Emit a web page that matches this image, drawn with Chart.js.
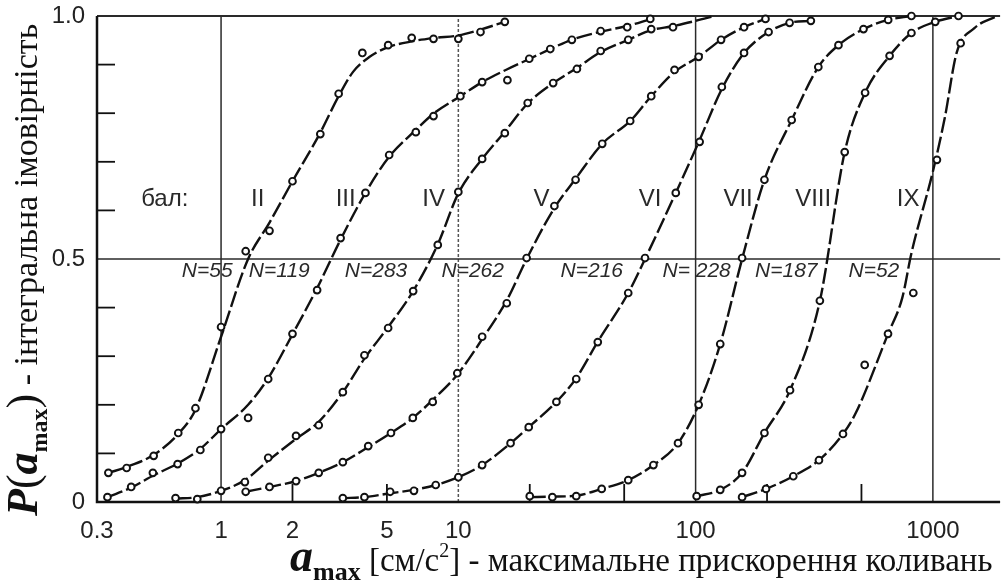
<!DOCTYPE html>
<html>
<head>
<meta charset="utf-8">
<script src="https://cdn.jsdelivr.net/npm/chart.js@4.4.0/dist/chart.umd.min.js"></script>
<style>
  html, body { margin: 0; padding: 0; background: #fff; }
  #wrap { width: 1006px; height: 583px; }
</style>
</head>
<body>
<div id="wrap"><canvas id="grafik" width="1006" height="583"></canvas></div>
<script>
// Бали та кількість записів
const grades = ['II', 'III', 'IV', 'V', 'VI', 'VII', 'VIII', 'IX'];
const recordsN = ['N=55', 'N=119', 'N=283', 'N=262', 'N=216', 'N= 228', 'N=187', 'N=52'];

// Підписи осей
const xTickValues = [0.3, 1, 2, 5, 10, 100, 1000];
const xMinorTicks = [2, 5, 20, 50, 200, 500];
const xGridValues = [1, 10, 100, 1000];
const yTickValues = [0, 0.5, 1];
const yMinorTicks = [0.1, 0.2, 0.3, 0.4, 0.6, 0.7, 0.8, 0.9];

// Спостереження (кружки)
const obsII_x = [0.335, 0.40, 0.52, 0.66, 0.78, 1.0, 1.27, 1.6, 2.0, 2.62, 3.13, 3.94, 5.06, 6.36, 7.86, 10, 12.4, 15.7];
const obsII_y = [0.06, 0.07, 0.095, 0.142, 0.193, 0.36, 0.516, 0.558, 0.66, 0.757, 0.84, 0.924, 0.94, 0.955, 0.953, 0.953, 0.967, 0.988];
const obsIII_x = [0.332, 0.418, 0.516, 0.656, 0.818, 1.0, 1.3, 1.58, 2.0, 2.54, 3.19, 4.06, 5.11, 6.62, 7.86, 10.2, 12.6, 16.1, 19.9, 24.4, 30.1, 39.8, 51.5, 64.4];
const obsIII_y = [0.01, 0.031, 0.06, 0.078, 0.107, 0.15, 0.173, 0.253, 0.346, 0.436, 0.543, 0.636, 0.714, 0.761, 0.794, 0.835, 0.864, 0.868, 0.912, 0.932, 0.951, 0.969, 0.977, 0.994];
const obsIV_x = [0.643, 0.794, 1.0, 1.26, 1.58, 2.07, 2.58, 3.26, 4.02, 5.06, 6.45, 8.19, 10, 12.6, 15.7, 19.6, 25.1, 31.6, 39.8, 52, 65, 80.3];
const obsIV_y = [0.008, 0.006, 0.023, 0.041, 0.091, 0.136, 0.158, 0.226, 0.302, 0.358, 0.434, 0.529, 0.638, 0.706, 0.759, 0.821, 0.862, 0.891, 0.928, 0.951, 0.973, 0.977];
const obsV_x = [1.27, 1.6, 2.07, 2.58, 3.26, 4.17, 5.2, 6.43, 7.8, 9.9, 12.6, 16.0, 19.4, 25.4, 31.2, 40.4, 53, 65, 81.5, 103, 128, 160, 197];
const obsV_y = [0.021, 0.031, 0.043, 0.06, 0.082, 0.115, 0.142, 0.173, 0.206, 0.265, 0.34, 0.409, 0.502, 0.609, 0.663, 0.737, 0.784, 0.835, 0.889, 0.916, 0.951, 0.977, 0.994];
const obsVI_x = [3.26, 4.02, 5.16, 6.5, 8.03, 10, 12.6, 16.6, 19.8, 25.9, 31.4, 38.7, 52, 61.2, 82.5, 104, 129, 160, 203, 249, 306];
const obsVI_y = [0.008, 0.01, 0.021, 0.023, 0.035, 0.051, 0.076, 0.121, 0.154, 0.206, 0.253, 0.329, 0.43, 0.502, 0.636, 0.741, 0.854, 0.924, 0.967, 0.986, 0.99];
const obsVII_x = [20, 24.9, 31.4, 40.2, 52, 66.4, 84.3, 103, 127, 157, 195, 254, 329, 400, 510, 648, 812];
const obsVII_y = [0.012, 0.01, 0.012, 0.027, 0.045, 0.076, 0.121, 0.2, 0.325, 0.502, 0.663, 0.786, 0.895, 0.94, 0.973, 0.992, 1.0];
const obsVIII_x = [101, 127, 157, 195, 250, 334, 425, 518, 657, 812, 1023, 1282];
const obsVIII_y = [0.012, 0.025, 0.06, 0.142, 0.23, 0.414, 0.72, 0.842, 0.918, 0.965, 0.988, 1.0];
const obsIX_x = [157, 198, 258, 331, 418, 516, 647, 827, 1040, 1309];
const obsIX_y = [0.01, 0.027, 0.053, 0.086, 0.14, 0.282, 0.346, 0.43, 0.704, 0.944];

// Згладжені криві розподілу
const fitII_x = [0.335, 0.40, 0.52, 0.66, 0.78, 1.0, 1.3, 1.6, 2.0, 2.6, 3.13, 3.6, 4.2, 5.0, 6.4, 8.0, 10, 12.4, 15.7];
const fitII_y = [0.06, 0.072, 0.097, 0.14, 0.19, 0.34, 0.5, 0.575, 0.66, 0.757, 0.835, 0.885, 0.915, 0.935, 0.948, 0.955, 0.96, 0.972, 0.988];
const fitIII_x = [0.332, 0.42, 0.52, 0.66, 0.82, 1.0, 1.3, 1.58, 2.0, 2.54, 3.19, 4.06, 5.1, 6.6, 7.9, 10.2, 12.6, 16, 20, 24.4, 30, 40, 52, 64];
const fitIII_y = [0.01, 0.03, 0.055, 0.08, 0.11, 0.15, 0.2, 0.255, 0.345, 0.44, 0.54, 0.636, 0.71, 0.765, 0.8, 0.835, 0.864, 0.89, 0.912, 0.932, 0.951, 0.968, 0.98, 0.993];
const fitIV_x = [0.643, 0.794, 1.0, 1.26, 1.58, 2.07, 2.58, 3.26, 4.02, 5.06, 6.45, 8.19, 10, 12.6, 15.7, 19.6, 25.1, 31.6, 39.8, 52, 65, 80, 100, 120];
const fitIV_y = [0.007, 0.01, 0.023, 0.045, 0.085, 0.13, 0.165, 0.226, 0.295, 0.36, 0.434, 0.53, 0.635, 0.706, 0.762, 0.82, 0.862, 0.893, 0.926, 0.951, 0.971, 0.979, 0.99, 1.0];
const fitV_x = [1.27, 1.6, 2.07, 2.58, 3.26, 4.17, 5.2, 6.43, 7.8, 9.9, 12.6, 16, 19.4, 25.4, 31.2, 40.4, 53, 65, 81.5, 103, 128, 160, 197];
const fitV_y = [0.021, 0.031, 0.043, 0.06, 0.082, 0.113, 0.142, 0.173, 0.21, 0.262, 0.335, 0.415, 0.5, 0.605, 0.665, 0.737, 0.784, 0.835, 0.885, 0.916, 0.951, 0.977, 0.994];
const fitVI_x = [3.26, 4.02, 5.16, 6.5, 8.03, 10, 12.6, 16.6, 19.8, 25.9, 31.4, 38.7, 52, 61.2, 82.5, 104, 129, 160, 203, 249, 306];
const fitVI_y = [0.008, 0.01, 0.018, 0.025, 0.035, 0.051, 0.076, 0.121, 0.154, 0.206, 0.255, 0.33, 0.43, 0.5, 0.636, 0.745, 0.85, 0.924, 0.967, 0.986, 0.99];
const fitVII_x = [20, 24.9, 31.4, 40.2, 52, 66.4, 84.3, 103, 127, 157, 195, 254, 329, 400, 510, 648, 812];
const fitVII_y = [0.01, 0.011, 0.013, 0.027, 0.045, 0.076, 0.121, 0.2, 0.325, 0.5, 0.663, 0.786, 0.895, 0.94, 0.973, 0.992, 1.0];
const fitVIII_x = [101, 127, 157, 195, 250, 334, 425, 518, 657, 812, 1023, 1282];
const fitVIII_y = [0.012, 0.025, 0.06, 0.142, 0.23, 0.414, 0.72, 0.842, 0.918, 0.965, 0.988, 1.0];
const fitIX_x = [157, 198, 258, 331, 418, 473, 647, 743, 812, 1000, 1122, 1259, 1496, 1864];
const fitIX_y = [0.01, 0.027, 0.053, 0.086, 0.14, 0.183, 0.346, 0.42, 0.512, 0.68, 0.79, 0.924, 0.975, 1.0];

const observed = [[obsII_x, obsII_y], [obsIII_x, obsIII_y], [obsIV_x, obsIV_y], [obsV_x, obsV_y],
                  [obsVI_x, obsVI_y], [obsVII_x, obsVII_y], [obsVIII_x, obsVIII_y], [obsIX_x, obsIX_y]];
const fitted = [[fitII_x, fitII_y], [fitIII_x, fitIII_y], [fitIV_x, fitIV_y], [fitV_x, fitV_y],
                [fitVI_x, fitVI_y], [fitVII_x, fitVII_y], [fitVIII_x, fitVIII_y], [fitIX_x, fitIX_y]];

function toPoints(xs, ys) {
    return xs.map(function (x, i) { return { x: x, y: ys[i] }; });
}

var datasets = [];
observed.forEach(function (o, i) {
    datasets.push({
        label: grades[i],
        data: toPoints(o[0], o[1]),
        showLine: false,
        pointRadius: 3.4,
        pointBorderWidth: 1.9,
        pointBorderColor: '#111',
        pointBackgroundColor: '#fff',
        order: 0,
        clip: false
    });
});
fitted.forEach(function (f, i) {
    datasets.push({
        label: grades[i] + ' fit',
        data: toPoints(f[0], f[1]),
        showLine: true,
        borderColor: '#111',
        borderWidth: 2.4,
        borderDash: [16, 4],
        pointRadius: 0,
        cubicInterpolationMode: 'monotone',
        fill: false,
        order: 1,
        clip: false
    });
});

// Розташування підписів (у координатах графіка)
const gradeLabelX = [1.426, 3.35, 7.87, 22.4, 64.3, 151, 313, 787];
const gradeLabelY = 0.623;
const nLabelX = [0.874, 1.76, 4.5, 11.5, 36.5, 101, 241, 564];
const nLabelY = 0.476;

const SANS = '"Liberation Sans", Arial, sans-serif';
const SERIF = '"Liberation Serif", "Times New Roman", serif';

function drawRuns(ctx, runs, x, y) {
    runs.forEach(function (r) {
        ctx.font = r.font;
        ctx.fillText(r.text, x, y + (r.dy || 0));
        x += ctx.measureText(r.text).width;
    });
}

const framePlugin = {
    id: 'frame',
    beforeDatasetsDraw(chart) {
        var ctx = chart.ctx, xs = chart.scales.x, ys = chart.scales.y, a = chart.chartArea;
        ctx.save();
        // вертикальні лінії сітки
        xGridValues.forEach(function (v) {
            var px = xs.getPixelForValue(v);
            ctx.lineWidth = 1.5;
            ctx.setLineDash(v === 10 ? [3, 2] : []);
            ctx.strokeStyle = v === 10 ? '#555' : '#2a2a2a';
            ctx.beginPath(); ctx.moveTo(px, a.bottom); ctx.lineTo(px, a.top); ctx.stroke();
        });
        ctx.setLineDash([]);
        ctx.strokeStyle = '#2a2a2a';
        // горизонтальні лінії 0.5 та 1.0
        ctx.lineWidth = 1.5;
        var p5 = ys.getPixelForValue(0.5);
        ctx.beginPath(); ctx.moveTo(a.left, p5); ctx.lineTo(a.right, p5); ctx.stroke();
        ctx.lineWidth = 2.2;
        var p1 = ys.getPixelForValue(1);
        ctx.beginPath(); ctx.moveTo(a.left, p1); ctx.lineTo(a.right, p1); ctx.stroke();
        // осі
        ctx.strokeStyle = '#111';
        ctx.lineWidth = 2.5;
        ctx.beginPath(); ctx.moveTo(a.left, a.top); ctx.lineTo(a.left, a.bottom); ctx.lineTo(a.right, a.bottom); ctx.stroke();
        // дрібні штрихи всередину
        ctx.lineWidth = 1.8;
        yMinorTicks.forEach(function (v) {
            var py = ys.getPixelForValue(v);
            ctx.beginPath(); ctx.moveTo(a.left, py); ctx.lineTo(a.left + 18, py); ctx.stroke();
        });
        xMinorTicks.forEach(function (v) {
            var px = xs.getPixelForValue(v);
            ctx.beginPath(); ctx.moveTo(px, a.bottom); ctx.lineTo(px, a.bottom - 18); ctx.stroke();
        });
        ctx.restore();
    },
    afterDatasetsDraw(chart) {
        var ctx = chart.ctx, xs = chart.scales.x, ys = chart.scales.y;
        ctx.save();
        ctx.fillStyle = '#2a2a2a';
        ctx.textAlign = 'center';
        ctx.textBaseline = 'middle';
        ctx.font = '24px ' + SANS;
        ctx.fillText('бал:', xs.getPixelForValue(0.579), ys.getPixelForValue(gradeLabelY));
        grades.forEach(function (g, i) {
            ctx.fillText(g, xs.getPixelForValue(gradeLabelX[i]), ys.getPixelForValue(gradeLabelY));
        });
        ctx.font = 'italic 21px ' + SANS;
        recordsN.forEach(function (t, i) {
            ctx.fillText(t, xs.getPixelForValue(nLabelX[i]), ys.getPixelForValue(nLabelY));
        });
        ctx.restore();

        // назви осей
        ctx.save();
        ctx.fillStyle = '#111';
        ctx.textAlign = 'left';
        ctx.textBaseline = 'alphabetic';
        drawRuns(ctx, [
            { text: 'a', font: 'italic bold 46px ' + SERIF },
            { text: 'max', font: 'bold 26px ' + SERIF, dy: 9 },
            { text: ' [см/с', font: '33px ' + SERIF },
            { text: '2', font: '20px ' + SERIF, dy: -14 },
            { text: '] - максимальне прискорення коливань', font: '33px ' + SERIF }
        ], 290, 571);
        ctx.translate(37, 516);
        ctx.rotate(-Math.PI / 2);
        drawRuns(ctx, [
            { text: 'P', font: 'italic bold 44px ' + SERIF },
            { text: '(', font: '44px ' + SERIF },
            { text: 'a', font: 'italic bold 44px ' + SERIF },
            { text: 'max', font: 'bold 24px ' + SERIF, dy: 10 },
            { text: ')', font: '44px ' + SERIF },
            { text: ' - інтегральна імовірність', font: '34px ' + SERIF }
        ], 0, 0);
        ctx.restore();
    }
};

new Chart(document.getElementById('grafik').getContext('2d'), {
    type: 'scatter',
    data: { datasets: datasets },
    options: {
        responsive: false,
        animation: false,
        devicePixelRatio: 1,
        layout: { padding: { top: 16, right: 0, left: 0, bottom: 0 } },
        plugins: {
            legend: { display: false },
            tooltip: { enabled: false }
        },
        scales: {
            x: {
                type: 'logarithmic',
                min: 0.3,
                max: 1920,
                grid: { display: false, drawTicks: false },
                border: { display: false },
                afterBuildTicks: function (s) { s.ticks = xTickValues.map(function (v) { return { value: v }; }); },
                afterFit: function (s) { s.height = 81; s.paddingLeft = 0; s.paddingRight = 0; },
                ticks: {
                    autoSkip: false,
                    maxRotation: 0,
                    padding: 15,
                    color: '#222',
                    font: { family: SANS, size: 24 },
                    callback: function (v) { return String(v); }
                }
            },
            y: {
                min: 0,
                max: 1,
                grid: { display: false, drawTicks: false },
                border: { display: false },
                afterBuildTicks: function (s) { s.ticks = yTickValues.map(function (v) { return { value: v }; }); },
                afterFit: function (s) { s.width = 97; s.paddingTop = 0; s.paddingBottom = 0; },
                ticks: {
                    padding: 12,
                    color: '#222',
                    font: { family: SANS, size: 24 },
                    callback: function (v) { return v === 1 ? '1.0' : String(v); }
                }
            }
        }
    },
    plugins: [framePlugin]
});
</script>
</body>
</html>
